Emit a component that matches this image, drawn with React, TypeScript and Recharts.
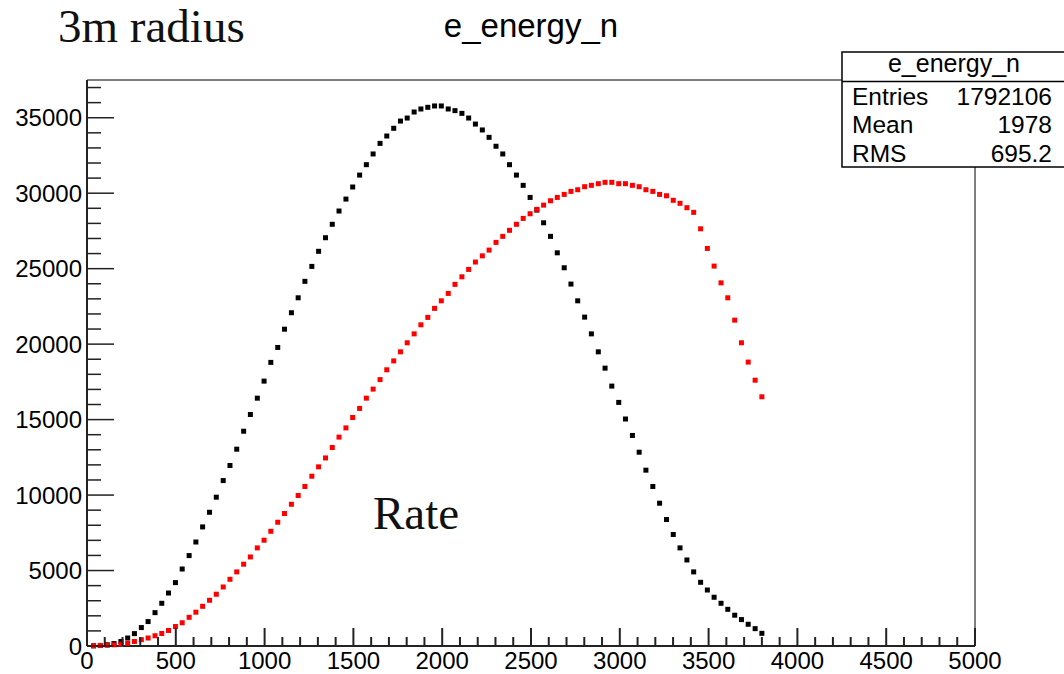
import { ScatterChart, Scatter, XAxis, YAxis, ReferenceArea } from "recharts";

// bin centres of the e_energy_n histogram (only filled bins are drawn)
const BIN_X = [
  37, 75, 114, 152, 191, 229, 267, 306, 344, 383, 421, 459, 498, 536, 575, 613, 651, 690, 728, 767,
  805, 843, 882, 920, 959, 997, 1035, 1074, 1112, 1151, 1189, 1227, 1266, 1304, 1343, 1381, 1419, 1458, 1496, 1535,
  1573, 1611, 1650, 1688, 1727, 1765, 1803, 1842, 1880, 1919, 1957, 1995, 2034, 2072, 2111, 2149, 2187, 2226, 2264, 2303,
  2341, 2379, 2418, 2456, 2495, 2533, 2571, 2610, 2648, 2687, 2725, 2763, 2802, 2840, 2879, 2917, 2955, 2994, 3032, 3071,
  3109, 3147, 3186, 3224, 3263, 3301, 3339, 3378, 3416, 3455, 3493, 3531, 3570, 3608, 3647, 3685, 3723, 3762, 3800,
];

const BLACK_COUNTS = [
  10, 30, 80, 160, 300, 530, 820, 1220, 1620, 2210, 2830, 3510, 4200, 5100, 5990, 6890, 7890, 8860, 9860, 10960,
  11960, 13040, 14230, 15340, 16420, 17550, 18790, 19780, 20990, 22080, 23070, 24160, 25150, 26150, 27050, 27940, 28820, 29610, 30410, 31200,
  31890, 32600, 33300, 33790, 34300, 34780, 34980, 35380, 35580, 35690, 35780, 35780, 35580, 35470, 35290, 34980, 34580, 34190, 33700, 33110,
  32600, 31890, 31200, 30520, 29720, 28880, 28040, 27140, 26050, 25060, 23980, 22870, 21790, 20680, 19490, 18410, 17220, 16140, 15040, 13950,
  12840, 11650, 10570, 9460, 8380, 7390, 6500, 5700, 4910, 4220, 3710, 3230, 2830, 2430, 2040, 1750, 1440, 1150, 840,
];

const RED_COUNTS = [
  20, 35, 55, 80, 120, 180, 300, 420, 530, 680, 830, 1030, 1290, 1540, 1900, 2240, 2630, 3030, 3430, 3910,
  4420, 4910, 5420, 5900, 6500, 7010, 7600, 8200, 8780, 9390, 9970, 10570, 11250, 11870, 12460, 13150, 13840, 14450, 15140, 15740,
  16420, 17020, 17650, 18300, 18890, 19490, 20090, 20680, 21280, 21770, 22370, 22870, 23360, 23960, 24460, 24950, 25440, 25850, 26230, 26740,
  27140, 27540, 27940, 28330, 28640, 28930, 29210, 29500, 29720, 29920, 30120, 30230, 30430, 30520, 30630, 30720, 30720, 30630, 30630, 30520,
  30430, 30230, 30120, 29920, 29830, 29530, 29330, 29040, 28730, 27640, 26340, 25170, 24060, 23070, 21590, 20090, 18810, 17610, 16510,
];

const X_TICKS = [
  0, 100, 200, 300, 400, 500, 600, 700, 800, 900, 1000, 1100, 1200, 1300, 1400, 1500, 1600, 1700, 1800, 1900,
  2000, 2100, 2200, 2300, 2400, 2500, 2600, 2700, 2800, 2900, 3000, 3100, 3200, 3300, 3400, 3500, 3600, 3700, 3800, 3900,
  4000, 4100, 4200, 4300, 4400, 4500, 4600, 4700, 4800, 4900, 5000,
];
const X_LABELS = [0, 500, 1000, 1500, 2000, 2500, 3000, 3500, 4000, 4500, 5000];

const Y_TICKS = [
  0, 1000, 2000, 3000, 4000, 5000, 6000, 7000, 8000, 9000, 10000, 11000, 12000, 13000, 14000, 15000, 16000, 17000, 18000, 19000,
  20000, 21000, 22000, 23000, 24000, 25000, 26000, 27000, 28000, 29000, 30000, 31000, 32000, 33000, 34000, 35000, 36000, 37000,
];
const Y_LABELS = [0, 5000, 10000, 15000, 20000, 25000, 30000, 35000];

const STATS = [
  ["Entries", "1792106"],
  ["Mean", "1978"],
  ["RMS", "695.2"],
];

const blackPoints = BIN_X.map((x, i) => ({ x, y: BLACK_COUNTS[i] }));
const redPoints = BIN_X.map((x, i) => ({ x, y: RED_COUNTS[i] }));

const SANS = "'Liberation Sans', Arial, sans-serif";
const SERIF = "'Liberation Serif', 'Times New Roman', serif";

function square(color: string) {
  // eslint-disable-next-line @typescript-eslint/no-explicit-any
  return (props: any) => (
    <rect x={props.cx - 2.5} y={props.cy - 2.5} width={5} height={5} fill={color} />
  );
}

// eslint-disable-next-line @typescript-eslint/no-explicit-any
function XTick({ x, y, payload }: any) {
  const v = payload.value;
  const major = X_LABELS.includes(v);
  return (
    <g>
      <line x1={x} y1={y} x2={x} y2={y - (major ? 18 : 9)} stroke="#222" strokeWidth={2} />
      {major && (
        <text x={x} y={y + 23} textAnchor="middle" fontSize={24} fontFamily={SANS} fill="#000">
          {v}
        </text>
      )}
    </g>
  );
}

// eslint-disable-next-line @typescript-eslint/no-explicit-any
function YTick({ x, y, payload }: any) {
  const v = payload.value;
  const major = Y_LABELS.includes(v);
  return (
    <g>
      <line x1={x} y1={y} x2={x + (major ? 27 : 14)} y2={y} stroke="#222" strokeWidth={1.5} />
      {major && (
        <text x={x - 5} y={y + 8.5} textAnchor="end" fontSize={24} fontFamily={SANS} fill="#000">
          {v}
        </text>
      )}
    </g>
  );
}

export default function App() {
  return (
    <div style={{ position: "absolute", left: 0, top: 0, width: 1064, height: 674, background: "#fff" }}>
      <ScatterChart width={1064} height={674} margin={{ top: 80, right: 89, bottom: 0, left: 0 }}>
        <XAxis
          type="number"
          dataKey="x"
          domain={[0, 5000]}
          ticks={X_TICKS}
          interval={0}
          tick={<XTick />}
          tickLine={false}
          tickSize={0}
          tickMargin={0}
          height={28}
          axisLine={{ stroke: "#222", strokeWidth: 2 }}
        />
        <YAxis
          type="number"
          dataKey="y"
          domain={[0, 37500]}
          ticks={Y_TICKS}
          interval={0}
          tick={<YTick />}
          tickLine={false}
          tickSize={0}
          tickMargin={0}
          width={87}
          axisLine={{ stroke: "#222", strokeWidth: 2 }}
        />
        <ReferenceArea x1={0} x2={5000} y1={0} y2={37500} fill="none" stroke="#000" strokeWidth={1} />
        <Scatter data={blackPoints} shape={square("#000")} isAnimationActive={false} />
        <Scatter data={redPoints} shape={square("#ff0000")} isAnimationActive={false} />
      </ScatterChart>

      <svg
        width={1064}
        height={674}
        style={{ position: "absolute", left: 0, top: 0, pointerEvents: "none" }}
      >
        <text x={58} y={42} fontSize={47} fontFamily={SERIF} fill="#111">
          3m radius
        </text>
        <text x={531} y={37} textAnchor="middle" fontSize={33} fontFamily={SANS} fill="#000">
          e_energy_n
        </text>
        <text x={373} y={529} fontSize={47} fontFamily={SERIF} fill="#111">
          Rate
        </text>

        <rect x={842} y={52} width={240} height={115} fill="#fff" stroke="#000" strokeWidth={1.5} />
        <line x1={842} y1={81.5} x2={1064} y2={81.5} stroke="#000" strokeWidth={1.5} />
        <text x={954} y={72} textAnchor="middle" fontSize={25} fontFamily={SANS} fill="#000">
          e_energy_n
        </text>
        {STATS.map(([label, value], i) => (
          <g key={label}>
            <text x={852} y={105 + i * 28.3} fontSize={24.5} fontFamily={SANS} fill="#000">
              {label}
            </text>
            <text x={1052} y={105 + i * 28.3} textAnchor="end" fontSize={24.5} fontFamily={SANS} fill="#000">
              {value}
            </text>
          </g>
        ))}
      </svg>
    </div>
  );
}
